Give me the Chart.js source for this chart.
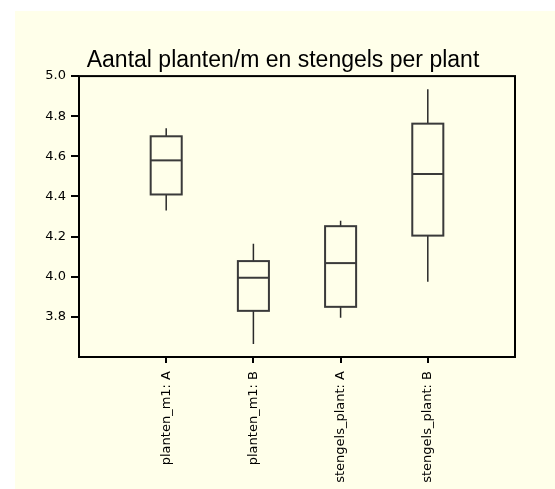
<!DOCTYPE html>
<html>
<head>
<meta charset="utf-8">
<script src="https://cdn.jsdelivr.net/npm/chart.js@4/dist/chart.umd.min.js"></script>
<style>
    html, body { margin: 0; padding: 0; background: #ffffff; }
    #wrap { position: absolute; left: 15px; top: 11px; width: 540px; height: 478px; background: #ffffea; }
</style>
</head>
<body>
<div id="wrap"><canvas id="chart"></canvas></div>
<script>
// Data
const categories = ['planten_m1: A', 'planten_m1: B', 'stengels_plant: A', 'stengels_plant: B'];
const mins    = [4.33, 3.665, 3.796, 3.975];
const q1s     = [4.41, 3.83, 3.85, 4.205];
const medians = [4.58, 3.995, 4.068, 4.512];
const q3s     = [4.70, 4.078, 4.252, 4.763];
const maxs    = [4.74, 4.164, 4.279, 4.934];
const yTicks  = [3.8, 4.0, 4.2, 4.4, 4.6, 4.8, 5.0];

const BOX_HALF = 0.178;

// Draws frame, boxes, medians and whiskers using the chart scales
const boxplotPlugin = {
    id: 'boxplot',
    afterDatasetsDraw(chart) {
        const { ctx, chartArea, scales } = chart;
        const x = scales.x, y = scales.y;
        ctx.save();

        categories.forEach((cat, i) => {
            const cx = x.getPixelForValue(i + 1);
            const left = x.getPixelForValue(i + 1 - BOX_HALF);
            const right = x.getPixelForValue(i + 1 + BOX_HALF);
            const top = y.getPixelForValue(q3s[i]);
            const bottom = y.getPixelForValue(q1s[i]);

            // whiskers
            ctx.strokeStyle = '#2a2a2a';
            ctx.lineWidth = 1.5;
            ctx.beginPath();
            ctx.moveTo(cx, y.getPixelForValue(maxs[i]));
            ctx.lineTo(cx, top);
            ctx.moveTo(cx, bottom);
            ctx.lineTo(cx, y.getPixelForValue(mins[i]));
            ctx.stroke();

            // box
            ctx.strokeStyle = '#3a3a3a';
            ctx.lineWidth = 2;
            ctx.strokeRect(left, top, right - left, bottom - top);

            // median
            const my = y.getPixelForValue(medians[i]);
            ctx.beginPath();
            ctx.moveTo(left, my);
            ctx.lineTo(right, my);
            ctx.stroke();
        });

        // plot frame
        ctx.strokeStyle = '#000000';
        ctx.lineWidth = 2;
        ctx.strokeRect(chartArea.left, chartArea.top, chartArea.right - chartArea.left, chartArea.bottom - chartArea.top);
        ctx.restore();
    }
};

const ctx = document.getElementById('chart').getContext('2d');
new Chart(ctx, {
    type: 'scatter',
    data: { datasets: [] },
    plugins: [boxplotPlugin],
    options: {
        responsive: true,
        maintainAspectRatio: false,
        animation: false,
        layout: { padding: { left: 0, right: 4, top: 0, bottom: 0 } },
        plugins: {
            legend: { display: false },
            tooltip: { enabled: false },
            title: {
                display: true,
                text: 'Aantal planten/m en stengels per plant',
                color: '#000000',
                font: { family: 'Liberation Sans, Arial, sans-serif', size: 23, weight: 'normal' },
                padding: { top: 36, bottom: 1.5 }
            }
        },
        scales: {
            x: {
                type: 'linear',
                min: 0,
                max: 5,
                afterBuildTicks: (scale) => {
                    scale.ticks = categories.map((c, i) => ({ value: i + 1 }));
                },
                afterFit: (scale) => { scale.height = 132; },
                grid: { display: true, drawOnChartArea: false, drawTicks: true, tickLength: 6, color: '#000000', lineWidth: 2 },
                border: { display: false },
                ticks: {
                    autoSkip: false,
                    minRotation: 90,
                    maxRotation: 90,
                    padding: 8,
                    color: '#000000',
                    font: { family: 'DejaVu Sans, sans-serif', size: 13 },
                    callback: (v) => categories[v - 1]
                }
            },
            y: {
                min: 3.6,
                max: 5.0,
                afterBuildTicks: (scale) => {
                    scale.ticks = yTicks.map(v => ({ value: v }));
                },
                afterFit: (scale) => { scale.width = 64; },
                grid: { display: true, drawOnChartArea: false, drawTicks: true, tickLength: 8, color: '#000000', lineWidth: 2 },
                border: { display: false },
                ticks: {
                    padding: 5,
                    color: '#000000',
                    font: { family: 'DejaVu Sans, sans-serif', size: 13 },
                    callback: (v) => v.toFixed(1)
                }
            },
            y2: {
                position: 'right',
                min: 3.6,
                max: 5.0,
                display: true,
                afterFit: (scale) => { scale.width = 36; },
                grid: { display: false },
                border: { display: false },
                ticks: { display: false }
            }
        }
    }
});
</script>
</body>
</html>
